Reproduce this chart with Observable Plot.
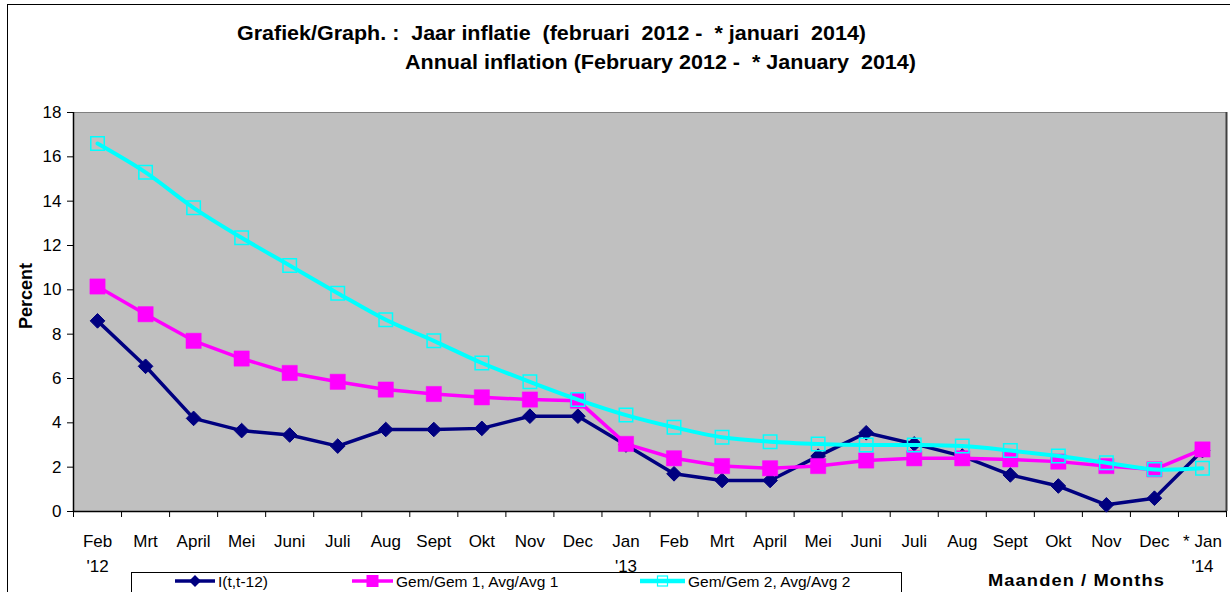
<!DOCTYPE html>
<html>
<head>
<meta charset="utf-8">
<script src="https://cdn.jsdelivr.net/npm/d3@7"></script>
<script src="https://cdn.jsdelivr.net/npm/@observablehq/plot@0.6"></script>
<style>
  html, body { margin: 0; padding: 0; background: #fff; }
  #wrap { position: relative; width: 1230px; height: 592px; overflow: hidden; font-family: "Liberation Sans", Arial, sans-serif; }
  #frame { position: absolute; left: 7px; top: 4px; width: 1240px; height: 600px; border: 1.5px solid #000; box-sizing: border-box; }
  .t { position: absolute; white-space: pre; font-weight: bold; color: #000; line-height: 1; }
  #chart { position: absolute; left: 0; top: 0; }
  #legend { position: absolute; left: 0; top: 0; }
</style>
</head>
<body>
<div id="wrap">
  <div id="frame"></div>
  <div id="chart"></div>
  <div class="t fit" data-w="629" style="left:237px; top:23px; font-size:20px;">Grafiek/Graph. :  Jaar inflatie  (februari  2012 -  * januari  2014)</div>
  <div class="t fit" data-w="511" style="left:405px; top:52px; font-size:20px;">Annual inflation (February 2012 -  * January  2014)</div>
  <div class="t" id="pct" style="left:26px; top:296px; font-size:18px; transform: translate(-50%,-50%) rotate(-90deg);">Percent</div>
  <div class="t fit" data-w="177" style="left:988px; top:572px; font-size:17px; letter-spacing:1px;">Maanden / Months</div>
  <svg id="legend" width="1230" height="592"></svg>
</div>
<script>
const months = ["Feb\n'12","Mrt","April","Mei","Juni","Juli","Aug","Sept","Okt","Nov","Dec","Jan\n'13",
                "Feb","Mrt","April","Mei","Juni","Juli","Aug","Sept","Okt","Nov","Dec","* Jan\n'14"];
const inflation = [8.6,6.55,4.2,3.65,3.45,2.95,3.7,3.7,3.75,4.3,4.3,3.0,
                   1.7,1.4,1.4,2.5,3.55,3.05,2.5,1.65,1.15,0.3,0.6,2.75];
const avg1 = [10.15,8.9,7.7,6.9,6.25,5.85,5.5,5.3,5.15,5.05,5.0,3.05,
              2.4,2.05,1.95,2.05,2.3,2.4,2.4,2.35,2.25,2.05,1.9,2.8];
const avg2 = [16.6,15.3,13.7,12.35,11.1,9.85,8.65,7.7,6.7,5.85,5.05,4.35,
              3.8,3.35,3.15,3.05,3.0,3.0,2.95,2.75,2.5,2.2,1.9,1.95];
const yTicks = [0,2,4,6,8,10,12,14,16,18];
const seriesNames = ["I(t,t-12)", "Gem/Gem 1, Avg/Avg 1", "Gem/Gem 2, Avg/Avg 2"];

const idx = months.map((_, i) => i);
const pts = s => s.map((v, i) => ({x: i + 0.5, y: v}));

const chart = Plot.plot({
  width: 1230,
  height: 592,
  marginLeft: 73,
  marginRight: 4,
  marginTop: 112,
  marginBottom: 81,
  style: {fontFamily: "Liberation Sans, Arial, sans-serif", fontSize: "17px", background: "transparent", overflow: "visible"},
  x: {type: "linear", domain: [0, 24]},
  y: {domain: [0, 18]},
  marks: [
    Plot.frame({fill: "#c0c0c0", stroke: null}),
    Plot.ruleY([18], {stroke: "#808080", strokeWidth: 1}),
    Plot.ruleX([24], {stroke: "#404040", strokeWidth: 2}),
    Plot.axisY({ticks: yTicks, tickSize: 6, tickPadding: 6, fontSize: 17, label: null, stroke: "#000", color: "#000"}),
    Plot.axisX({ticks: d3.range(0, 25), tickFormat: () => "", tickSize: 6, label: null, stroke: "#000"}),
    Plot.ruleY([0], {stroke: "#000", strokeWidth: 1.5}),
    Plot.ruleX([0], {stroke: "#000", strokeWidth: 1.5}),
    Plot.text(idx, {x: d => d + 0.5, text: d => months[d], frameAnchor: "bottom", lineAnchor: "top", dy: 17, lineHeight: 1.5, fontSize: 17, fill: "#000"}),
    // Series 1
    Plot.line(pts(inflation), {x: "x", y: "y", stroke: "#000080", strokeWidth: 3.5}),
    Plot.dot(pts(inflation), {x: "x", y: "y", symbol: "diamond2", r: 6.6, fill: "#000080", stroke: "#000080", strokeWidth: 1}),
    // Series 2
    Plot.line(pts(avg1), {x: "x", y: "y", stroke: "#ff00ff", strokeWidth: 3.5}),
    Plot.dot(pts(avg1), {x: "x", y: "y", symbol: "square", r: 8.6, fill: "#ff00ff", stroke: "#ff00ff", strokeWidth: 0.5}),
    // Series 3
    Plot.line(pts(avg2), {x: "x", y: "y", stroke: "#00ffff", strokeWidth: 4, curve: "catmull-rom"}),
    Plot.dot(pts(avg2), {x: "x", y: "y", symbol: "square", r: 7.6, fill: "none", stroke: "#00ffff", strokeWidth: 1.5})
  ]
});
document.getElementById("chart").appendChild(chart);

// fit title widths
document.querySelectorAll(".fit").forEach(el => {
  const w = el.getBoundingClientRect().width;
  const target = +el.dataset.w;
  el.style.transformOrigin = "0 50%";
  el.style.transform = `scaleX(${target / w})`;
});

// Legend
const lg = d3.select("#legend");
lg.append("rect").attr("x", 131.5).attr("y", 572.5).attr("width", 770).attr("height", 30)
  .attr("fill", "#fff").attr("stroke", "#000").attr("stroke-width", 1);
const items = [
  {x1: 175, x2: 215, tx: 218, color: "#000080", sym: "diamond"},
  {x1: 352, x2: 393, tx: 396, color: "#ff00ff", sym: "square"},
  {x1: 640, x2: 685, tx: 688, color: "#00ffff", sym: "hollow"}
];
items.forEach((it, i) => {
  const cy = 581, cx = (it.x1 + it.x2) / 2;
  lg.append("line").attr("x1", it.x1).attr("x2", it.x2).attr("y1", cy).attr("y2", cy)
    .attr("stroke", it.color).attr("stroke-width", i === 2 ? 4.5 : 3.5);
  if (it.sym === "diamond") {
    lg.append("path").attr("d", `M${cx},${cy-6}L${cx+6},${cy}L${cx},${cy+6}L${cx-6},${cy}Z`).attr("fill", it.color);
  } else if (it.sym === "square") {
    lg.append("rect").attr("x", cx - 6).attr("y", cy - 6).attr("width", 12).attr("height", 12).attr("fill", it.color);
  } else {
    lg.append("rect").attr("x", cx - 5).attr("y", cy - 5).attr("width", 10).attr("height", 10)
      .attr("fill", "none").attr("stroke", it.color).attr("stroke-width", 1.2);
  }
  lg.append("text").attr("x", it.tx).attr("y", cy + 5.5).attr("font-size", 15.5)
    .attr("font-family", "Liberation Sans, Arial, sans-serif").attr("fill", "#000").text(seriesNames[i]);
});
</script>
</body>
</html>
